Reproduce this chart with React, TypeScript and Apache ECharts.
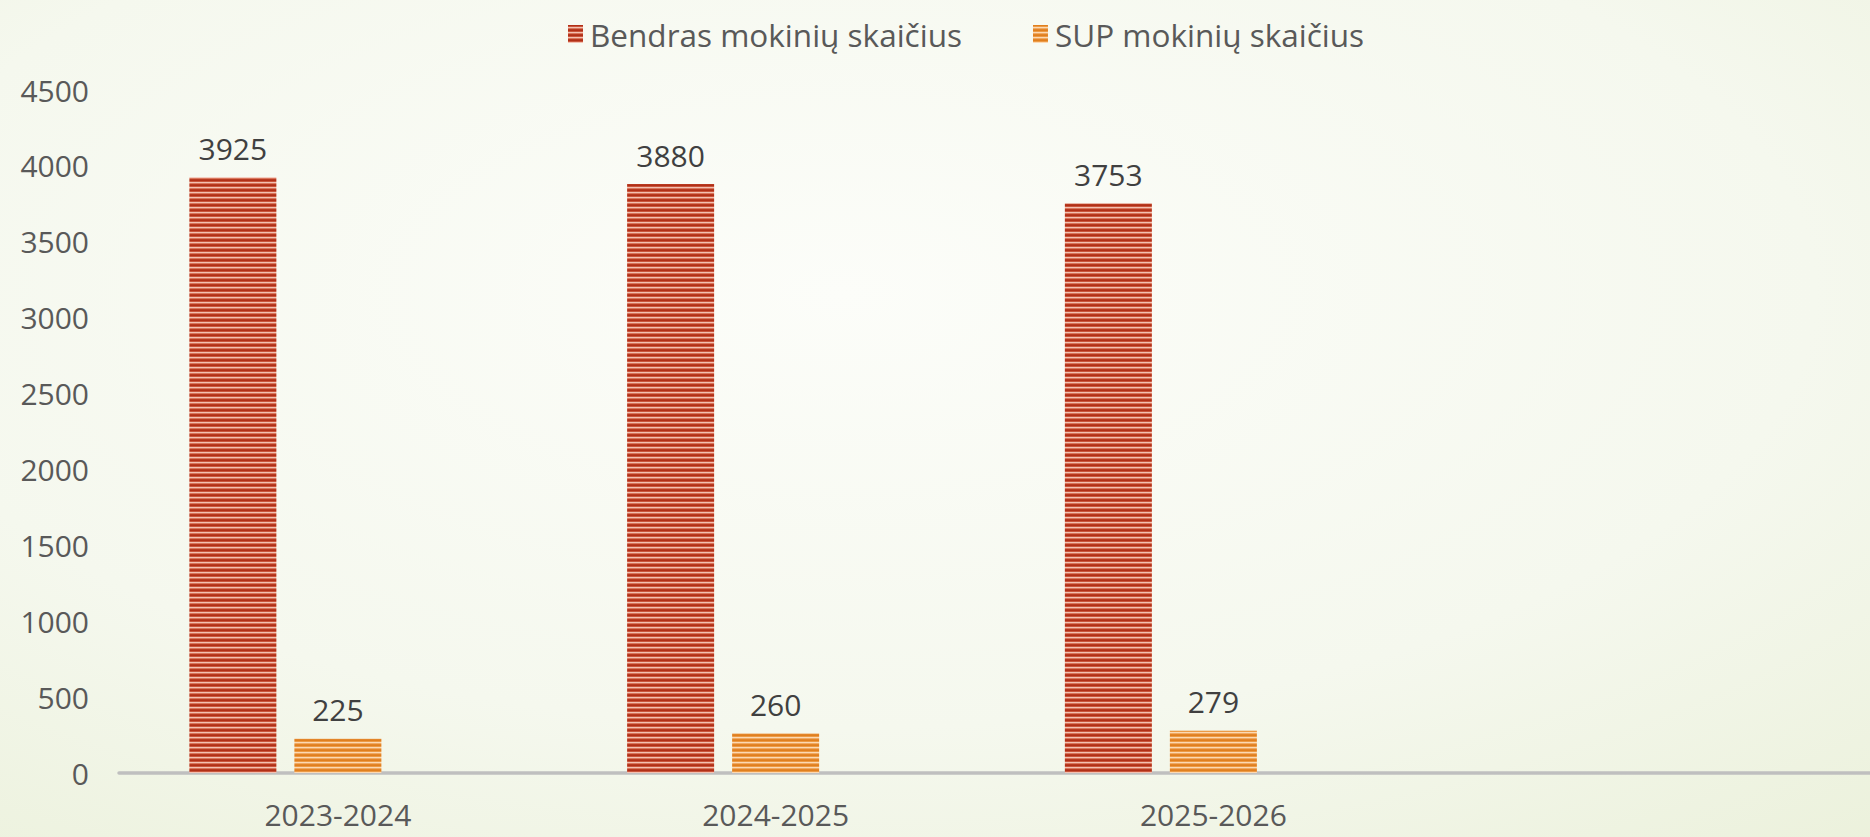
import React, { useEffect, useRef } from "react";
import * as echarts from "echarts";

const categories = ["2023-2024", "2024-2025", "2025-2026", ""];
const seriesNames = ["Bendras mokinių skaičius", "SUP mokinių skaičius"];
const totalStudents = [3925, 3880, 3753, null];
const supStudents = [225, 260, 279, null];
const emptySeries = [null, null, null, null];
const yTicks = { min: 0, max: 4500, interval: 500 };

function stripePattern(rows: string[]) {
  const c = document.createElement("canvas");
  c.width = 8;
  c.height = rows.length;
  const ctx = c.getContext("2d")!;
  rows.forEach((col, i) => {
    ctx.fillStyle = col;
    ctx.fillRect(0, i, 8, 1);
  });
  return { image: c, repeat: "repeat", imageWidth: 8, imageHeight: rows.length } as any;
}

export default function App() {
  const ref = useRef<HTMLDivElement>(null);
  useEffect(() => {
    if (!ref.current) return;
    const chart = echarts.init(ref.current, undefined, { renderer: "svg" });
    const redPattern = stripePattern(["#b12f17", "#c9563c", "#f3c1b2", "#d9765d", "#b83a20"]);
    const orangePattern = stripePattern(["#e07f1e", "#ec9a45", "#fcd9b3", "#f0aa62", "#e3852a"]);
    const font = "'Open Sans', 'Liberation Sans', sans-serif";
    const labelStyle = {
      show: true,
      position: "top",
      distance: 14,
      color: "#404040",
      fontSize: 30,
      fontFamily: font,
    };
    chart.setOption({
      animation: false,
      backgroundColor: {
        type: "radial",
        x: 0.45,
        y: 0.35,
        r: 1.3,
        colorStops: [
          { offset: 0, color: "#fcfdf9" },
          { offset: 0.4, color: "#f5f8ee" },
          { offset: 1, color: "#dfe8c4" },
        ],
      },
      textStyle: { fontFamily: font },
      legend: {
        data: seriesNames,
        left: 563,
        top: 13,
        itemWidth: 15,
        itemHeight: 18,
        itemGap: 71,
        icon: "rect",
        textStyle: { color: "#595959", fontSize: 31.5, fontFamily: font, padding: [0, 0, 0, 2] },
      },
      grid: { left: 119, right: 0, top: 90, bottom: 64, containLabel: false },
      xAxis: {
        type: "category",
        data: categories,
        axisLine: { show: true, lineStyle: { color: "#bfbfbf", width: 3.5 } },
        axisTick: { show: false },
        axisLabel: { color: "#595959", fontSize: 30, margin: 26, fontFamily: font },
        splitLine: { show: false },
      },
      yAxis: {
        type: "value",
        min: yTicks.min,
        max: yTicks.max,
        interval: yTicks.interval,
        axisLine: { show: false },
        axisTick: { show: false },
        splitLine: { show: false },
        axisLabel: {
          color: "#595959",
          fontSize: 30,
          margin: 30,
          fontFamily: font,
          formatter: (v: number) => String(v),
        },
      },
      series: [
        {
          name: seriesNames[0],
          type: "bar",
          data: totalStudents,
          barWidth: 87,
          barGap: "20.7%",
          itemStyle: { color: redPattern },
          label: labelStyle,
        },
        {
          name: seriesNames[1],
          type: "bar",
          data: supStudents,
          barWidth: 87,
          barGap: "20.7%",
          itemStyle: { color: orangePattern },
          label: labelStyle,
        },
        {
          name: "",
          type: "bar",
          data: emptySeries,
          barWidth: 87,
          barGap: "20.7%",
        },
      ],
    });
    return () => chart.dispose();
  }, []);
  return (
    <div
      ref={ref}
      style={{ position: "absolute", left: 0, top: 0, width: 1870, height: 837 }}
    />
  );
}
